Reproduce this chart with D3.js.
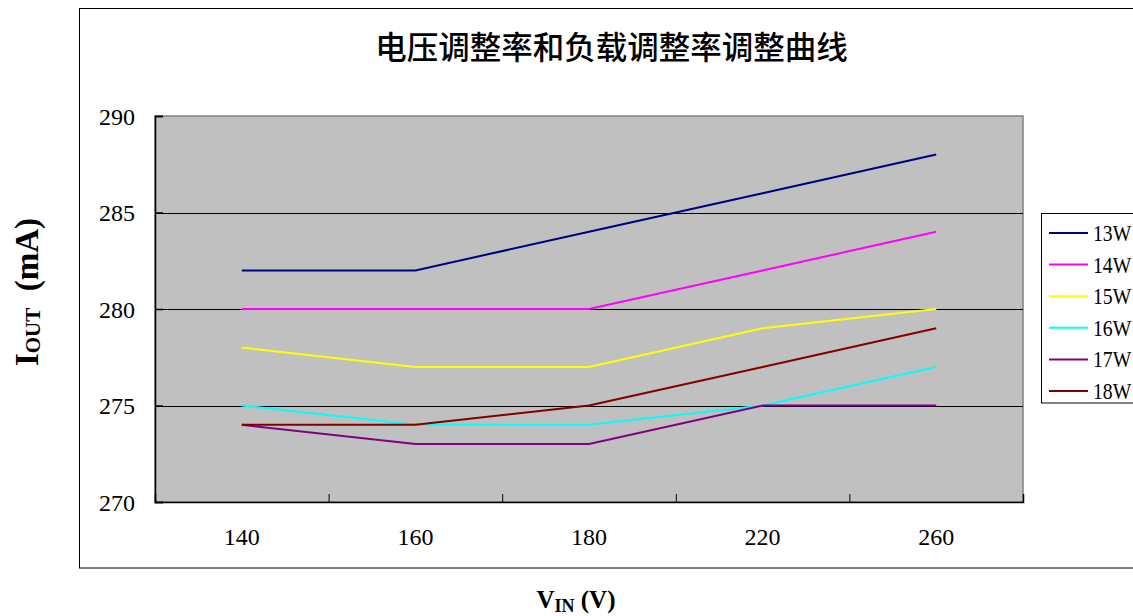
<!DOCTYPE html>
<html><head><meta charset="utf-8">
<script src="https://cdn.jsdelivr.net/npm/d3@7"></script>
<style>body{margin:0;background:#fff;} svg{display:block;}</style>
</head><body>
<svg id="c" width="1133" height="616"></svg>
<script>
const categories = ["140", "160", "180", "220", "260"];
const seriesNames = ["13W", "14W", "15W", "16W", "17W", "18W"];
const s13 = [282, 282, 284, 286, 288];
const s14 = [280, 280, 280, 282, 284];
const s15 = [278, 277, 277, 279, 280];
const s16 = [275, 274, 274, 275, 277];
const s17 = [274, 273, 273, 275, 275];
const s18 = [274, 274, 275, 277, 279];
const seriesValues = [s13, s14, s15, s16, s17, s18];
const colors = ["#000080", "#FF00FF", "#FFFF00", "#00FFFF", "#800080", "#800000"];
const yTicks = [270, 275, 280, 285, 290];

const svg = d3.select("#c");
const L = 155, R = 1023, T = 116, B = 502;
const serif = "'Liberation Serif', 'DejaVu Serif', serif";

// outer chart frame
svg.append("rect").attr("x", 79.5).attr("y", 8.5).attr("width", 1100).attr("height", 559.5)
  .attr("fill", "#fff").attr("stroke", "#000").attr("stroke-width", 1);

// title
svg.append("text").attr("x", 611.5).attr("y", 59).attr("text-anchor", "middle")
  .attr("font-family", "'Noto Sans CJK SC', sans-serif").attr("font-size", 31.5).attr("font-weight", 500)
  .text("电压调整率和负载调整率调整曲线");

const x = d3.scaleBand().domain(categories).range([L, R]);
const y = d3.scaleLinear().domain([270, 290]).range([B, T]);

// plot area
svg.append("rect").attr("x", L).attr("y", T).attr("width", R - L).attr("height", B - T)
  .attr("fill", "#C0C0C0").attr("stroke", "#808080").attr("stroke-width", 1.5);

// gridlines
svg.append("g").selectAll("line").data(yTicks.filter(d => d > 270 && d < 290)).join("line")
  .attr("x1", L).attr("x2", R).attr("y1", d => Math.round(y(d)) + 0.5).attr("y2", d => Math.round(y(d)) + 0.5)
  .attr("stroke", "#000").attr("stroke-width", 1);

// y axis
const yAxis = d3.axisLeft(y).tickValues(yTicks).tickSize(-8).tickPadding(20).tickFormat(d3.format("d"));
const gy = svg.append("g").attr("transform", `translate(${L},0)`).call(yAxis);
gy.select(".domain").attr("stroke", "#000").attr("stroke-width", 1.5);
gy.selectAll(".tick line").attr("stroke", "#000").attr("stroke-width", 1.5);
gy.selectAll("text").attr("font-family", serif).attr("font-size", 24).attr("fill", "#000").attr("dy", "0.34em");

// x axis
const xb = d3.scaleLinear().domain([0, categories.length]).range([L, R]);
const gx = svg.append("g").attr("transform", `translate(0,${B})`)
  .call(d3.axisBottom(xb).tickValues(d3.range(0, categories.length + 1)).tickSize(-8).tickFormat(""));
gx.select(".domain").attr("stroke", "#000").attr("stroke-width", 1.5);
gx.selectAll(".tick line").attr("stroke", "#000").attr("stroke-width", 1);
svg.append("g").selectAll("text").data(categories).join("text")
  .attr("x", d => x(d) + x.bandwidth() / 2).attr("y", 545).attr("text-anchor", "middle")
  .attr("font-family", serif).attr("font-size", 24).text(d => d);

// lines
const line = d3.line().x((d, i) => x(categories[i]) + x.bandwidth() / 2).y(d => y(d));
svg.append("g").selectAll("path").data(seriesValues).join("path")
  .attr("d", d => line(d)).attr("fill", "none")
  .attr("stroke", (d, i) => colors[i]).attr("stroke-width", 2);

// legend
const lg = svg.append("g");
lg.append("rect").attr("x", 1041.5).attr("y", 213.5).attr("width", 120).attr("height", 189.5)
  .attr("fill", "#fff").attr("stroke", "#000").attr("stroke-width", 1);
seriesNames.forEach((n, i) => {
  const yy = 233 + i * 31.6;
  lg.append("line").attr("x1", 1049).attr("x2", 1088).attr("y1", yy).attr("y2", yy)
    .attr("stroke", colors[i]).attr("stroke-width", 2);
  lg.append("text").attr("x", 1093).attr("y", yy + 8).attr("font-family", serif).attr("font-size", 24)
    .attr("transform", `translate(1093,0) scale(0.82,1) translate(-1093,0)`).text(n);
});

// axis titles
const xt = svg.append("text").attr("x", 576).attr("y", 608).attr("text-anchor", "middle")
  .attr("font-family", serif).attr("font-size", 25).attr("font-weight", "bold");
xt.append("tspan").text("V");
xt.append("tspan").attr("font-size", 18).attr("dy", 4).text("IN");
xt.append("tspan").attr("dy", -4).text("\u00a0(V)");

const yt = svg.append("text").attr("transform", "translate(38,292) rotate(-90)").attr("text-anchor", "middle")
  .attr("font-family", serif).attr("font-size", 33).attr("font-weight", "bold");
yt.append("tspan").text("I");
yt.append("tspan").attr("font-size", 21).attr("dy", 2).text("OUT");
yt.append("tspan").attr("dy", -2).text("\u00a0\u00a0(mA)");
</script>
</body></html>
